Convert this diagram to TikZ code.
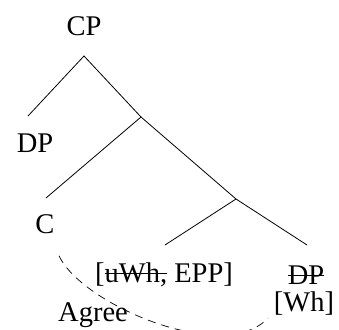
\documentclass[tikz,border=0pt]{standalone}
\usepackage{fontspec}
\setmainfont{Liberation Serif}
\newcommand\mystrike[1]{\begingroup\setbox0\hbox{#1}\rlap{\rule[0.3em]{\wd0}{0.7pt}}\box0\endgroup}
\begin{document}
\begin{tikzpicture}[x=1pt,y=-1pt,
  lbl/.style={inner sep=0pt,font=\fontsize{28.5}{32}\selectfont},
  br/.style={line width=0.8pt},
  agr/.style={line width=0.7pt,dash pattern=on 8pt off 6pt}]
\useasboundingbox (0,0) rectangle (339,329);
\clip (0,0) rectangle (339,329);
\node[lbl] (cp) at (84,26) {CP};
\coordinate (r) at (84,56);
\coordinate (dpl) at (28,116);
\coordinate (b1) at (141,117);
\coordinate (cl) at (46,198);
\coordinate (b2) at (236,199);
\coordinate (fl) at (165,245);
\coordinate (dl) at (307,245);
\node[lbl] (dp) at (35,143) {DP};
\node[lbl] (c) at (45,224) {C};
\node[lbl] (feat) at (164,275) {[\mystrike{uWh,} EPP]};
\node[lbl] (dp2) at (306,275) {\mystrike{DP}};
\node[lbl] (wh) at (304,304) {[Wh]};
\node[lbl] (agree) at (93,315) {Agree};
\draw[br] (dpl) -- (r) -- (b1);
\draw[br] (cl) -- (b1) -- (b2);
\draw[br] (fl) -- (b2) -- (dl);
\draw[agr] (c.south) ++(14,22) coordinate (s) .. controls (82,305) and (225,365) .. (268,318) coordinate (e);
\end{tikzpicture}
\end{document}
